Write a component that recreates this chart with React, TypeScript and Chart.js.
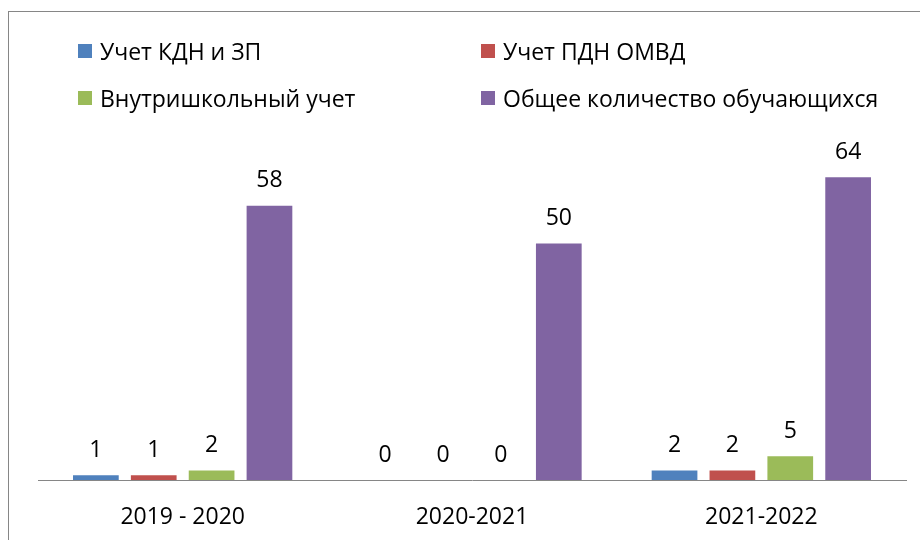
import React, { useEffect, useRef } from "react";
import { Chart, registerables } from "chart.js";

Chart.register(...registerables);

const categories = ["2019 - 2020", "2020-2021", "2021-2022"];
const seriesNames = [
  "Учет КДН и ЗП",
  "Учет ПДН ОМВД",
  "Внутришкольный учет",
  "Общее количество обучающихся",
];
const kdnValues = [1, 0, 2];
const pdnValues = [1, 0, 2];
const schoolValues = [2, 0, 5];
const totalValues = [58, 50, 64];
const seriesColors = ["#4F81BD", "#C0504D", "#9BBB59", "#8064A2"];

const FONT = "'Open Sans', sans-serif";
const FONT_SIZE = 23;

const dataLabels = {
  id: "dataLabels",
  afterDatasetsDraw(chart: any) {
    const ctx = chart.ctx;
    ctx.save();
    ctx.font = `${FONT_SIZE}px ${FONT}`;
    ctx.fillStyle = "#000000";
    ctx.textAlign = "center";
    ctx.textBaseline = "middle";
    chart.data.datasets.forEach((ds: any, i: number) => {
      const meta = chart.getDatasetMeta(i);
      meta.data.forEach((el: any, j: number) => {
        ctx.fillText(String(ds.data[j]), el.x, el.y - 25);
      });
    });
    ctx.restore();
  },
};

export default function App() {
  const canvasRef = useRef<HTMLCanvasElement | null>(null);

  useEffect(() => {
    const allValues = [kdnValues, pdnValues, schoolValues, totalValues];
    const chart = new Chart(canvasRef.current as HTMLCanvasElement, {
      type: "bar",
      data: {
        labels: categories,
        datasets: seriesNames.map((name, i) => ({
          label: name,
          data: allValues[i],
          backgroundColor: seriesColors[i],
          borderWidth: 0,
          categoryPercentage: 0.8,
          barPercentage: 0.79,
        })),
      },
      options: {
        responsive: false,
        animation: false,
        layout: { padding: { left: 38, right: 14, top: 149, bottom: 0 } },
        plugins: {
          legend: { display: false },
          tooltip: { enabled: false },
        },
        scales: {
          x: {
            grid: { display: false, drawTicks: false },
            border: { display: true, color: "#868686", width: 1 },
            ticks: {
              color: "#000000",
              font: { family: FONT, size: FONT_SIZE },
              padding: 24,
              maxRotation: 0,
            },
            afterFit: (s: any) => {
              s.height = 60;
            },
          },
          y: {
            display: false,
            min: 0,
            max: 70,
          },
        },
      },
      plugins: [dataLabels],
    });
    return () => chart.destroy();
  }, []);

  const legendPos = [
    { x: 78, y: 51 },
    { x: 481, y: 51 },
    { x: 78, y: 98 },
    { x: 481, y: 98 },
  ];

  return (
    <div
      style={{
        position: "fixed",
        left: 0,
        top: 0,
        width: 920,
        height: 540,
        background: "#ffffff",
        overflow: "hidden",
      }}
    >
      <div
        style={{
          position: "absolute",
          left: 8,
          top: 11,
          width: 940,
          height: 560,
          border: "1px solid #868686",
          boxSizing: "border-box",
        }}
      />
      <canvas
        ref={canvasRef}
        width={920}
        height={540}
        style={{ position: "absolute", left: 0, top: 0, width: 920, height: 540 }}
      />
      {seriesNames.map((name, i) => (
        <div
          key={name}
          style={{
            position: "absolute",
            left: legendPos[i].x,
            top: legendPos[i].y - 15,
            height: 30,
            display: "flex",
            alignItems: "center",
            fontFamily: FONT,
            fontSize: FONT_SIZE,
            color: "#000000",
            whiteSpace: "nowrap",
          }}
        >
          <span
            style={{
              display: "inline-block",
              width: 14,
              height: 14,
              background: seriesColors[i],
              marginRight: 8,
            }}
          />
          <span style={{ lineHeight: "30px" }}>{name}</span>
        </div>
      ))}
    </div>
  );
}
